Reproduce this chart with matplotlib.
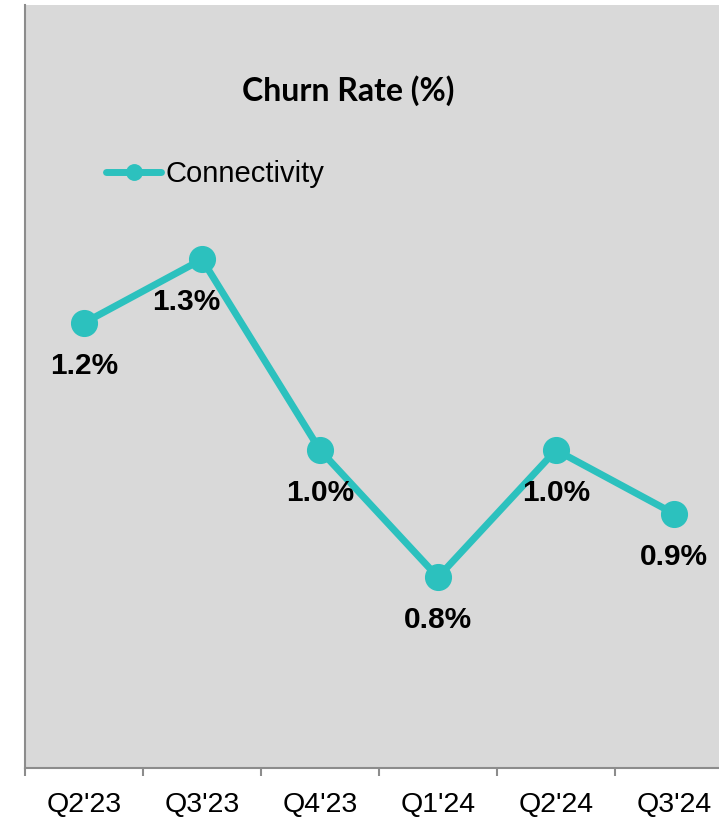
import matplotlib
matplotlib.use("Agg")
import matplotlib.pyplot as plt
import numpy as np

categories = ["Q2'23", "Q3'23", "Q4'23", "Q1'24", "Q2'24", "Q3'24"]
churn = [1.2, 1.3, 1.0, 0.8, 1.0, 0.9]
labels = ["1.2%", "1.3%", "1.0%", "0.8%", "1.0%", "0.9%"]
series_name = "Connectivity"
title = "Churn Rate (%)"

W, H = 719, 819
fig = plt.figure(figsize=(W / 100, H / 100), dpi=100)
fig.patch.set_facecolor("white")

left, right = 25, 733
top, bottom = 5, 768
ax = fig.add_axes([left / W, 1 - bottom / H, (right - left) / W, (bottom - top) / H])
ax.set_facecolor("#d9d9d9")

color = "#2cc1be"
x = np.arange(len(categories))
line, = ax.plot(x, churn, color=color, lw=5, marker="o", ms=18.5,
                solid_capstyle="round", solid_joinstyle="round", label=series_name)

ax.set_xlim(-0.5, len(categories) - 0.5)
ax.set_ylim(0.5, 1.7)

xoff = {1: -16}
for i, (v, t) in enumerate(zip(churn, labels)):
    ax.annotate(t, (x[i], v), xytext=(xoff.get(i, 0) * 0.72, -31), textcoords="offset points",
                ha="center", va="center", fontsize=21.5, fontweight="bold",
                family="Liberation Sans", color="black")

ax.set_yticks([])
ax.set_xticks(x)
ax.set_xticklabels(categories, fontsize=20.5, family="Liberation Sans")
ax.tick_params(axis="x", which="major", length=0, pad=17)
ax.set_xticks(np.arange(-0.5, len(categories)), minor=True)
ax.tick_params(axis="x", which="minor", length=6, width=1.5, color="#8c8c8c")

for s in ["top", "right"]:
    ax.spines[s].set_visible(False)
for s in ["left", "bottom"]:
    ax.spines[s].set_color("#8c8c8c")
    ax.spines[s].set_linewidth(1.5)

fig.text(348 / W, 1 - 91 / H, title, ha="center", va="center",
         fontsize=23, fontweight="bold", family="Lato")

leg = ax.legend(loc="center left",
                bbox_to_anchor=((106 - left) / (right - left), 1 - (174 - top) / (bottom - top)),
                frameon=False, prop={"family": "Liberation Sans", "size": 21},
                handlelength=1.9, handletextpad=0.15, borderaxespad=0, borderpad=0,
                markerscale=0.6)

fig.savefig("out.png", dpi=100)
